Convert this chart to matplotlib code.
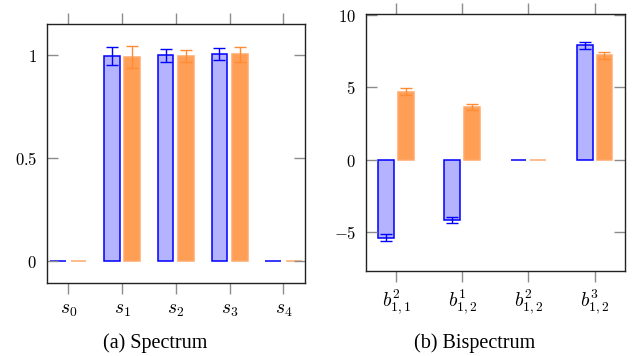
import matplotlib.pyplot as plt
import numpy as np

plt.rcParams['mathtext.fontset'] = 'cm'

# spectrum data
spec_labels = [r'$s_0$', r'$s_1$', r'$s_2$', r'$s_3$', r'$s_4$']
spec_blue = [0.0, 0.995, 1.0, 1.005, 0.0]
spec_blue_err = [0.0, 0.044, 0.032, 0.03, 0.0]
spec_orange = [0.0, 0.99, 0.997, 1.005, 0.0]
spec_orange_err = [0.0, 0.053, 0.03, 0.036, 0.0]

# bispectrum data
bisp_labels = [r'$b^2_{1,1}$', r'$b^1_{1,2}$', r'$b^2_{1,2}$', r'$b^3_{1,2}$']
bisp_blue = [-5.4, -4.18, 0.0, 7.9]
bisp_blue_err = [0.25, 0.18, 0.0, 0.24]
bisp_orange = [4.7, 3.65, 0.0, 7.2]
bisp_orange_err = [0.25, 0.2, 0.0, 0.23]

blue_fill = '#b3b3ff'
blue_edge = '#0000ff'
orange_fill = '#ff9e55'
orange_edge = '#ffa86a'
orange_err = '#ff8c33'
gray = '#8c8c8c'

fig = plt.figure(figsize=(6.39, 3.56), dpi=100)
ax1 = fig.add_axes([46.7 / 639, 1 - 283 / 356, (305 - 46.7) / 639, (283 - 24.3) / 356])
ax2 = fig.add_axes([365.7 / 639, 1 - 270.7 / 356, (625 - 365.7) / 639, (270.7 - 14) / 356])


def draw(ax, labels, b, be, o, oe, off, w, xfs):
    x = np.arange(len(labels))
    ax.bar(x - off, b, w, color=blue_fill, edgecolor=blue_edge, linewidth=1.1)
    ax.bar(x + off, o, w, color=orange_fill, edgecolor=orange_edge, linewidth=1.1)
    be_arr = np.array(be)
    oe_arr = np.array(oe)
    m = be_arr > 0
    ax.errorbar((x - off)[m], np.array(b)[m], yerr=be_arr[m], fmt='none',
                ecolor=blue_edge, elinewidth=1.0, capsize=4, capthick=1.0)
    m = oe_arr > 0
    ax.errorbar((x + off)[m], np.array(o)[m], yerr=oe_arr[m], fmt='none',
                ecolor=orange_err, elinewidth=1.0, capsize=4, capthick=1.0)
    ax.set_xticks(x)
    ax.set_xticklabels(labels, fontsize=xfs)
    ax.tick_params(axis='x', direction='out', color=gray, length=8, top=True,
                   bottom=True, labeltop=False, width=1.0, pad=4)
    ax.tick_params(axis='y', direction='in', color=gray, length=8, left=True,
                   right=True, width=1.0, labelsize=12, pad=7)
    for s in ax.spines.values():
        s.set_linewidth(1.0)
        s.set_color('#222222')


draw(ax1, spec_labels, spec_blue, spec_blue_err, spec_orange, spec_orange_err, 0.19, 0.29, 14)
ax1.set_xlim(-0.4, 4.4)
ax1.set_ylim(-0.105, 1.15)
ax1.set_yticks([0, 0.5, 1])
ax1.set_yticklabels([r'$0$', r'$0.5$', r'$1$'])

draw(ax2, bisp_labels, bisp_blue, bisp_blue_err, bisp_orange, bisp_orange_err, 0.15, 0.24, 14)
ax2.set_xlim(-0.46, 3.46)
ax2.set_ylim(-7.69, 10.07)
ax2.set_yticks([-5, 0, 5, 10])
ax2.set_yticklabels([r'$-5$', r'$0$', r'$5$', r'$10$'])

fig.text(155 / 639, 1 - 343 / 356, '(a) Spectrum', ha='center', va='center',
         fontsize=14.5, family='Liberation Serif')
fig.text(475 / 639, 1 - 343 / 356, '(b) Bispectrum', ha='center', va='center',
         fontsize=14.5, family='Liberation Serif')

fig.savefig('out.png', dpi=100)
